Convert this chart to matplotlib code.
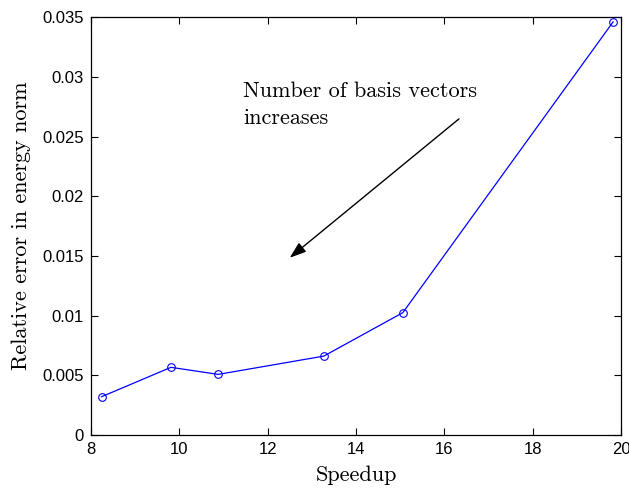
import matplotlib
matplotlib.use("Agg")
import matplotlib.pyplot as plt

speedup = [8.24, 9.81, 10.88, 13.27, 15.06, 19.82]
rel_error = [0.00321, 0.00567, 0.00508, 0.00661, 0.01025, 0.0346]

xticks = [8, 10, 12, 14, 16, 18, 20]
yticks = [0, 0.005, 0.01, 0.015, 0.02, 0.025, 0.03, 0.035]
ytick_labels = ["0", "0.005", "0.01", "0.015", "0.02", "0.025", "0.03", "0.035"]

fig = plt.figure(figsize=(6.29, 4.91), dpi=100)
ax = fig.add_axes([0.1447, 0.114, 0.8426, 0.851])

ax.plot(speedup, rel_error, color="blue", linewidth=0.9, marker="o",
        markersize=5.5, markerfacecolor="none", markeredgecolor="blue", markeredgewidth=0.8)

ax.set_xlim(8, 20)
ax.set_ylim(0, 0.035)
ax.set_xticks(xticks)
ax.set_xticklabels([str(t) for t in xticks], fontfamily="Liberation Sans", fontsize=12)
ax.set_yticks(yticks)
ax.set_yticklabels(ytick_labels, fontfamily="Liberation Sans", fontsize=12)
ax.tick_params(direction="in", top=True, right=True, length=5, width=0.8, pad=5)
for s in ax.spines.values():
    s.set_linewidth(0.9)

ax.set_xlabel("Speedup", fontfamily="cmr10", fontsize=16, labelpad=6)
ax.set_ylabel("Relative error in energy norm", fontfamily="cmr10", fontsize=16, labelpad=8)

ax.annotate("", xy=(12.45, 0.0147), xytext=(16.38, 0.02663),
            arrowprops=dict(arrowstyle="-|>,head_length=1.0,head_width=0.35", color="black", lw=1.0))
ax.text(11.44, 0.0296, "Number of basis vectors\nincreases", fontfamily="cmr10",
        fontsize=16, va="top", ha="left", linespacing=1.5)

fig.savefig("out.png", dpi=100)
